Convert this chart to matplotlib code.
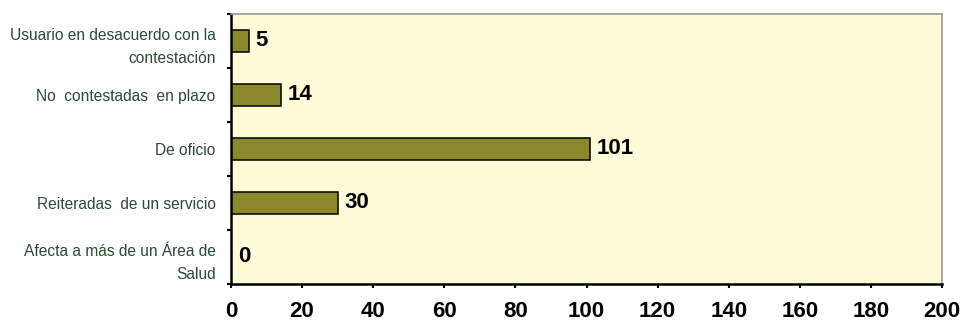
import matplotlib.pyplot as plt
import numpy as np

# datos (de arriba a abajo)
categorias = [
    "Usuario en desacuerdo con la\ncontestación",
    "No  contestadas  en plazo",
    "De oficio",
    "Reiteradas  de un servicio",
    "Afecta a más de un Área de\nSalud",
]
valores = [5, 14, 101, 30, 0]
xticks = [0, 20, 40, 60, 80, 100, 120, 140, 160, 180, 200]

plt.rcParams['font.family'] = ['Liberation Sans', 'DejaVu Sans']

fig = plt.figure(figsize=(9.61, 3.22), dpi=100)
ax = fig.add_axes([231 / 961, 1 - 284 / 322, 711 / 961, 270 / 322])
ax.set_facecolor("#FFFAD7")

y = np.arange(len(categorias))
ax.barh(y, valores, height=0.42, color="#8B872B", edgecolor="black", linewidth=1.1)

for yi, v in zip(y, valores):
    ax.annotate(str(v), (v, yi), xytext=(5, 0), textcoords="offset points",
                va="center", ha="left", fontsize=16, fontweight="bold")

ax.set_xlim(0, 200)
ax.set_ylim(len(categorias) - 0.5, -0.5)
ax.set_xticks(xticks)
ax.set_xticklabels([str(t) for t in xticks], fontsize=16, fontweight="bold")
ax.tick_params(axis="x", direction="out", length=3, width=1.5, pad=9)

ax.set_yticks(y)
ax.set_yticklabels(categorias, fontsize=11.2, color="#2D4A35", linespacing=1.7)
ax.set_yticks(np.arange(-0.5, len(categorias)), minor=True)
ax.tick_params(axis="y", which="major", length=0, pad=11)
ax.tick_params(axis="y", which="minor", length=3, width=1.5)

for s in ["top", "right"]:
    ax.spines[s].set_color("#9A9A9A")
    ax.spines[s].set_linewidth(1.2)
for s in ["left", "bottom"]:
    ax.spines[s].set_color("black")
    ax.spines[s].set_linewidth(1.8)

plt.savefig("out.png", dpi=100)
